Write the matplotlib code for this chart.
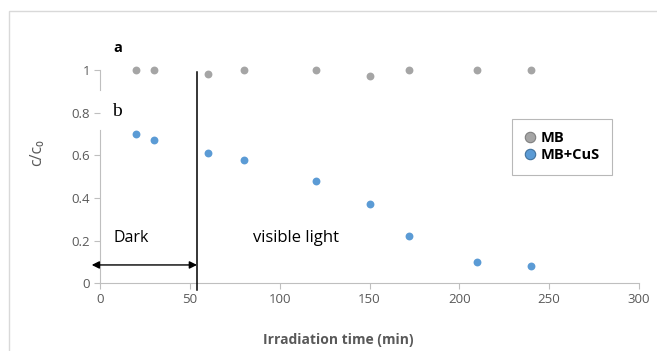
import numpy as np
import matplotlib.pyplot as plt
from matplotlib.lines import Line2D
from matplotlib.patches import Rectangle

plt.rcParams['font.family'] = ['Open Sans', 'DejaVu Sans']

# data
time_mb = [20, 30, 60, 80, 120, 150, 172, 210, 240]
ratio_mb = [1.0, 1.0, 0.98, 1.0, 1.0, 0.97, 1.0, 1.0, 1.0]
time_cus = [20, 30, 60, 80, 120, 150, 172, 210, 240]
ratio_cus = [0.70, 0.67, 0.61, 0.58, 0.48, 0.37, 0.22, 0.10, 0.08]
labels = ['MB', 'MB+CuS']
dark_end = 54

gray = '#A5A5A5'
blue = '#5B9BD5'
axis_col = '#BFBFBF'
txt_col = '#595959'

fig = plt.figure(figsize=(6.57, 3.51), dpi=100)
ax = fig.add_axes([100 / 657, 1 - 283.3 / 351, 539 / 657, 256 / 351])

# outer chart border (top and left edges visible only)
fig.patches.append(Rectangle((9 / 657, -0.2), 1.2, 0.2 + (351 - 11) / 351,
                             transform=fig.transFigure, fill=False,
                             ec='#D9D9D9', lw=1.0))

ax.scatter(time_mb, ratio_mb, s=32, color=gray, zorder=3, lw=0)
ax.scatter(time_cus, ratio_cus, s=32, color=blue, zorder=3, lw=0)

ax.set_xlim(0, 300)
ax.set_ylim(0, 1.2)
ax.set_xticks(np.arange(0, 301, 50))
ax.set_yticks([0, 0.2, 0.4, 0.6, 0.8, 1])
ax.set_yticklabels(['0', '0.2', '0.4', '0.6', '0.8', '1'])

for s in ['top', 'right', 'left']:
    ax.spines[s].set_visible(False)
ax.spines['bottom'].set_color(axis_col)
# left axis line, interrupted behind the "b" label
ax.axvline(0, 0, 0.72 / 1.2, color=axis_col, lw=0.8, clip_on=False)
ax.axvline(0, 0.905 / 1.2, 1 / 1.2, color=axis_col, lw=0.8, clip_on=False)
ax.tick_params(colors=txt_col, labelsize=9.5, length=4, width=0.8, pad=3)
ax.tick_params(axis='x', color=axis_col)
ax.tick_params(axis='y', color=axis_col)

ax.set_xlabel('Irradiation time (min)', fontsize=10, fontweight='bold',
              color=txt_col)
ax.xaxis.set_label_coords((338 - 100) / 539, -(333 - 283.3) / 256)
ax.set_ylabel('c/c\u2080', fontsize=11.5, color=txt_col)
ax.yaxis.set_label_coords(-(100 - 45) / 539, (283.3 - 153) / 256)

# dark / light boundary and arrow
ax.plot([dark_end, dark_end], [-0.03, 0.99], color='black', lw=1.1,
        clip_on=False, zorder=4)
ax.annotate('', xy=(-4.6, 0.086), xytext=(dark_end, 0.086),
            arrowprops=dict(arrowstyle='<|-|>', color='black', lw=1.0,
                            mutation_scale=11, shrinkA=0, shrinkB=0),
            annotation_clip=False)

ax.text(10, 1.103, 'a', fontsize=10.5, fontweight='bold', ha='center',
        va='center')
ax.text(9.3, 0.805, 'b', fontsize=14, family=['Liberation Serif'],
        ha='center', va='center')
ax.text(7.5, 0.211, 'Dark', fontsize=11.5, ha='left', va='center')
ax.text(85, 0.214, 'visible light', fontsize=12, ha='left', va='center')

handles = [
    Line2D([], [], ls='none', marker='o', markersize=7.5, color=gray,
           markeredgecolor='#7F7F7F', markeredgewidth=0.8),
    Line2D([], [], ls='none', marker='o', markersize=7.5, color=blue,
           markeredgecolor='#41719C', markeredgewidth=0.8),
]
leg = ax.legend(handles, labels, loc='upper left',
                bbox_to_anchor=(0.764, 0.642), frameon=True, fancybox=False,
                prop={'weight': 'bold', 'size': 10.5}, handlelength=0.8,
                handletextpad=0.3, borderpad=0.85, labelspacing=0.2,
                borderaxespad=0)
leg.get_frame().set_edgecolor('#A6A6A6')
leg.get_frame().set_linewidth(0.8)

fig.savefig('out.png', dpi=100)
